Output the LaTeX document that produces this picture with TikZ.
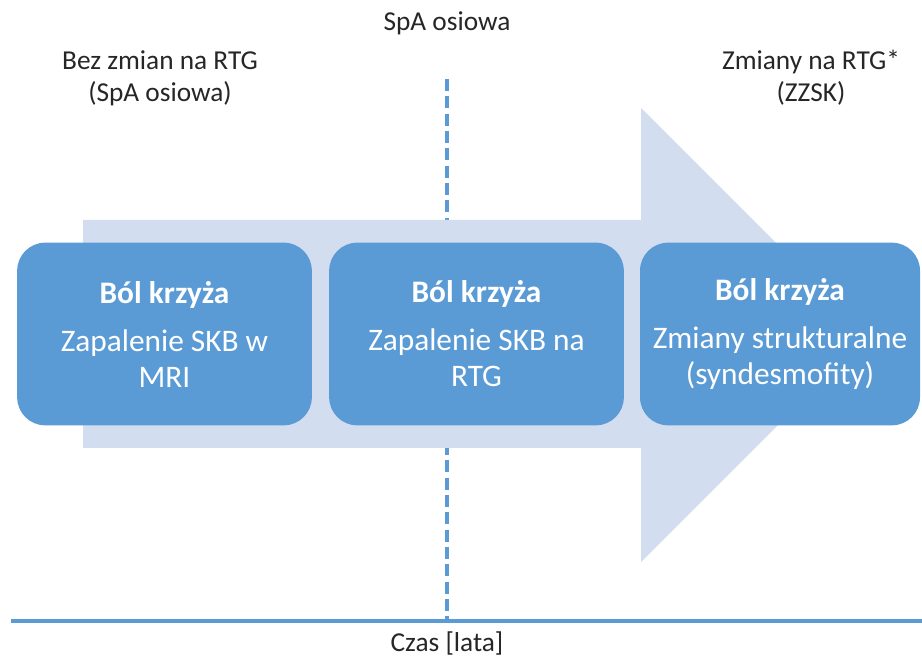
\documentclass[tikz,border=0pt]{standalone}
\usepackage{fontspec}
\setmainfont{Carlito}
\usetikzlibrary{positioning}
\definecolor{boxblue}{HTML}{5B9BD5}
\definecolor{arrowlight}{HTML}{D2DEEF}
\definecolor{labelgray}{HTML}{262626}
\tikzset{
  stagebox/.style={rounded corners=21pt,fill=boxblue,text=white,align=center,
    minimum height=137pt,inner sep=0pt,font=\fontsize{23.5}{27}\selectfont},
  toplabel/.style={text=labelgray,align=center,inner sep=0pt,
    font=\fontsize{20.5}{24}\selectfont},
  timeline/.style={draw=boxblue,line width=3pt},
  splitline/.style={draw=boxblue,line width=2.8pt,dash pattern=on 9pt off 4pt}
}

\begin{document}
\begin{tikzpicture}[x=0.75pt,y=-0.75pt]
  \useasboundingbox (0,0) rectangle (922,659);
  \node[toplabel,anchor=base] (spa) at (447,31) {SpA osiowa};
  \node[toplabel,anchor=base] (bezzmian) at (160,102) {Bez zmian na RTG\\(SpA osiowa)};
  \node[toplabel,anchor=base] (zmiany) at (811,102) {Zmiany na RTG*\\(ZZSK)};
  \coordinate (splittop) at (447,79);
  \coordinate (axisL) at (11,621);
  \coordinate (axisR) at (922,621);
  \coordinate (splitbot) at (axisL -| splittop);
  \draw[splitline] (splittop) -- (splitbot);
  \fill[arrowlight](83,220)--(641,220)--(641,108)--(868,335)--(641,562)--(641,448)--(83,448)--cycle;
  \node[stagebox,minimum width=221pt] (mri) at (164.5,334)
    {\textbf{Ból krzyża}\\[9pt]Zapalenie SKB w\\MRI};
  \node[stagebox,minimum width=221pt] (rtg) at (476.5,334)
    {\textbf{Ból krzyża}\\[9pt]Zapalenie SKB na\\RTG};
  \node[stagebox,minimum width=210pt] (struct) at (780,334)
    {\textbf{Ból krzyża}\\[9pt]Zmiany strukturalne\\(syndesmofity)};
  \draw[timeline] (axisL) -- (axisR);
  \node[toplabel,anchor=base] (czas) at (447,651) {Czas [lata]};
\end{tikzpicture}
\end{document}
